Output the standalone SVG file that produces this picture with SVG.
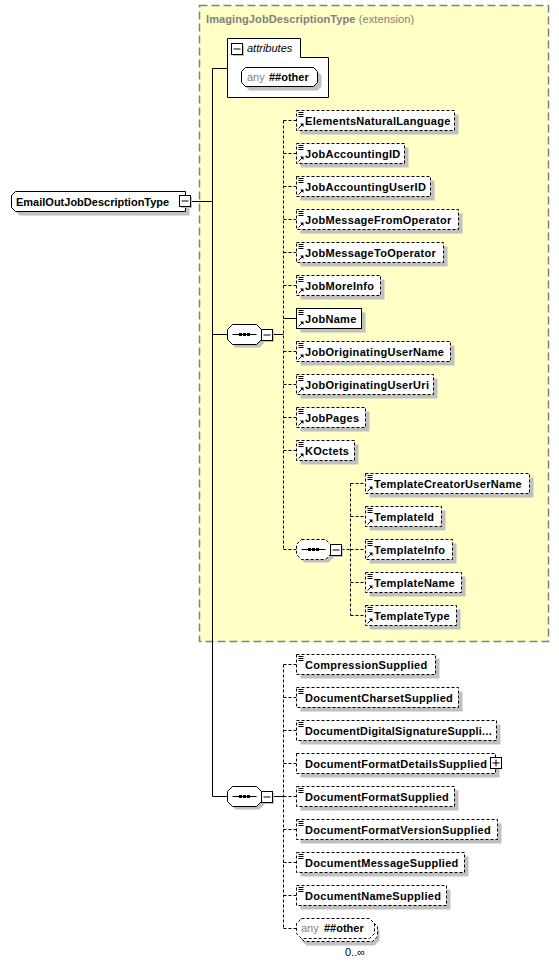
<svg xmlns="http://www.w3.org/2000/svg" xmlns:xlink="http://www.w3.org/1999/xlink" width="559" height="964" viewBox="0 0 559 964">
<style>
.t{font-family:"Liberation Sans",Arial,sans-serif;font-size:11px}
.b{font-weight:bold}
.el{font-family:"Liberation Sans",Arial,sans-serif;font-size:11px;font-weight:bold;letter-spacing:0.3px;fill:#000}
.gr{fill:#808080}
.box{fill:#fff;stroke:#000;stroke-width:1}
.opt{stroke-dasharray:3,2}
.sh{fill:#c0c0c0;stroke:none}
.ln{fill:none;stroke:#000;stroke-width:1}
.dl{stroke-dasharray:3,2}
</style>
<defs>
<path id="oct" d="M5,0H29L34,5V15L29,20H5L0,15V5Z"/>
<g id="ico"><path d="M2,2H7M2,4H7M2,6H7" class="ln"/></g>
<g id="ref"><path d="M2,-2L5.5,-5.5" class="ln"/><path d="M3.5,-7H7V-3.5Z" fill="#000"/></g>
<g id="minus"><rect class="sh" x="1.5" y="1.5" width="11" height="11"/><rect class="box" width="11" height="11"/><path d="M2,5.5H9" class="ln"/></g>
<g id="plus"><rect class="box" width="11" height="11"/><path d="M2,5.5H9M5.5,2V9" class="ln"/></g>
<g id="seqin"><path d="M5,10H29" class="ln"/><rect x="11.5" y="8.5" width="3" height="3" fill="#000"/><rect x="15.5" y="8.5" width="3" height="3" fill="#000"/><rect x="19.5" y="8.5" width="3" height="3" fill="#000"/></g>
</defs>

<g id="ImagingJobDescriptionType">
<rect x="199.5" y="5.5" width="349" height="636" fill="#ffffc6" stroke="#808080" stroke-width="1.5" stroke-dasharray="8,4"/>
<text class="t" x="206" y="22.5" style="letter-spacing:0.1px"><tspan class="b gr">ImagingJobDescriptionType</tspan><tspan class="gr"> (extension)</tspan></text>
</g>

<g id="connectors">
<path class="ln" d="M190.5,201.5H212.5M212.5,68.5V796.5M212.5,68.5H227.5M212.5,334.5H227.5M212.5,796.5H227.5"/>
<path class="ln" d="M272.5,334.5H283.5M283.5,318.5H296.5M272.5,796.5H283.5"/>
<path class="ln dl" d="M283.5,120.5V549.5M283.5,120.5H296.5M283.5,153.5H296.5M283.5,186.5H296.5M283.5,219.5H296.5M283.5,252.5H296.5M283.5,285.5H296.5M283.5,351.5H296.5M283.5,384.5H296.5M283.5,417.5H296.5M283.5,450.5H296.5M283.5,549.5H296.5"/>
<path class="ln dl" d="M341.5,549.5H350.5M350.5,483.5V615.5M350.5,483.5H365.5M350.5,516.5H365.5M350.5,549.5H365.5M350.5,582.5H365.5M350.5,615.5H365.5"/>
<path class="ln dl" d="M283.5,664.5V928.5M283.5,664.5H296.5M283.5,697.5H296.5M283.5,730.5H296.5M283.5,763.5H296.5M283.5,796.5H296.5M283.5,829.5H296.5M283.5,862.5H296.5M283.5,895.5H296.5M283.5,928.5H296.5"/>
</g>

<g id="EmailOutJobDescriptionType">
<path class="sh" d="M19.5,195.5H189.5V215.5H19.5L15.5,211.5V199.5Z"/>
<path class="box" d="M15.5,191.5H185.5V211.5H15.5L11.5,207.5V195.5Z"/>
<text class="t b" x="16" y="206">EmailOutJobDescriptionType</text>
<use href="#minus" x="179.5" y="195.5"/>
</g>

<g id="attributes">
<path class="box" d="M227.5,97.5V38.5H300.5V57.5H328.5V97.5Z"/>
<use href="#minus" x="231.5" y="43.5"/>
<text class="t" x="247" y="52" font-style="italic">attributes</text>
<path class="sh" d="M249.5,71.5H317.5L321.5,75.5V86.5L317.5,90.5H249.5L245.5,86.5V75.5Z"/>
<path class="box" d="M245.5,67.5H313.5L317.5,71.5V82.5L313.5,86.5H245.5L241.5,82.5V71.5Z"/>
<text class="t" x="247" y="81"><tspan class="gr">any</tspan><tspan class="b" x="269">##other</tspan></text>
</g>

<g id="sequence1" transform="translate(227.5,324.5)">
<use href="#oct" class="sh" x="3" y="3"/><use href="#oct" class="box"/><use href="#seqin"/>
<use href="#minus" x="34" y="5"/>
</g>

<g id="ElementsNaturalLanguage"><rect class="sh" x="300.5" y="114.5" width="158" height="20"/><rect class="box opt" x="296.5" y="110.5" width="158" height="20"/><use href="#ico" x="296.5" y="110.5"/><use href="#ref" x="296.5" y="130.5"/><text class="el" x="305" y="124.5">ElementsNaturalLanguage</text></g>
<g id="JobAccountingID"><rect class="sh" x="300.5" y="147.5" width="108" height="20"/><rect class="box opt" x="296.5" y="143.5" width="108" height="20"/><use href="#ico" x="296.5" y="143.5"/><use href="#ref" x="296.5" y="163.5"/><text class="el" x="305" y="157.5">JobAccountingID</text></g>
<g id="JobAccountingUserID"><rect class="sh" x="300.5" y="180.5" width="134" height="20"/><rect class="box opt" x="296.5" y="176.5" width="134" height="20"/><use href="#ico" x="296.5" y="176.5"/><use href="#ref" x="296.5" y="196.5"/><text class="el" x="305" y="190.5">JobAccountingUserID</text></g>
<g id="JobMessageFromOperator"><rect class="sh" x="300.5" y="213.5" width="162" height="20"/><rect class="box opt" x="296.5" y="209.5" width="162" height="20"/><use href="#ico" x="296.5" y="209.5"/><use href="#ref" x="296.5" y="229.5"/><text class="el" x="305" y="223.5">JobMessageFromOperator</text></g>
<g id="JobMessageToOperator"><rect class="sh" x="300.5" y="246.5" width="147" height="20"/><rect class="box opt" x="296.5" y="242.5" width="147" height="20"/><use href="#ico" x="296.5" y="242.5"/><use href="#ref" x="296.5" y="262.5"/><text class="el" x="305" y="256.5">JobMessageToOperator</text></g>
<g id="JobMoreInfo"><rect class="sh" x="300.5" y="279.5" width="84" height="20"/><rect class="box opt" x="296.5" y="275.5" width="84" height="20"/><use href="#ico" x="296.5" y="275.5"/><use href="#ref" x="296.5" y="295.5"/><text class="el" x="305" y="289.5">JobMoreInfo</text></g>
<g id="JobName"><rect class="sh" x="300.5" y="312.5" width="65" height="20"/><rect class="box" x="296.5" y="308.5" width="65" height="20"/><use href="#ico" x="296.5" y="308.5"/><use href="#ref" x="296.5" y="328.5"/><text class="el" x="305" y="322.5">JobName</text></g>
<g id="JobOriginatingUserName"><rect class="sh" x="300.5" y="345.5" width="154" height="20"/><rect class="box opt" x="296.5" y="341.5" width="154" height="20"/><use href="#ico" x="296.5" y="341.5"/><use href="#ref" x="296.5" y="361.5"/><text class="el" x="305" y="355.5">JobOriginatingUserName</text></g>
<g id="JobOriginatingUserUri"><rect class="sh" x="300.5" y="378.5" width="137" height="20"/><rect class="box opt" x="296.5" y="374.5" width="137" height="20"/><use href="#ico" x="296.5" y="374.5"/><use href="#ref" x="296.5" y="394.5"/><text class="el" x="305" y="388.5">JobOriginatingUserUri</text></g>
<g id="JobPages"><rect class="sh" x="300.5" y="411.5" width="69" height="20"/><rect class="box opt" x="296.5" y="407.5" width="69" height="20"/><use href="#ico" x="296.5" y="407.5"/><use href="#ref" x="296.5" y="427.5"/><text class="el" x="305" y="421.5">JobPages</text></g>
<g id="KOctets"><rect class="sh" x="300.5" y="444.5" width="58" height="20"/><rect class="box opt" x="296.5" y="440.5" width="58" height="20"/><use href="#ico" x="296.5" y="440.5"/><use href="#ref" x="296.5" y="460.5"/><text class="el" x="305" y="454.5">KOctets</text></g>

<g id="sequenceTemplate" transform="translate(296.5,539.5)">
<use href="#oct" class="sh" x="3" y="3"/><use href="#oct" class="box opt"/><use href="#seqin"/>
<use href="#minus" x="34" y="5"/>
</g>

<g id="TemplateCreatorUserName"><rect class="sh" x="369.5" y="477.5" width="164" height="20"/><rect class="box opt" x="365.5" y="473.5" width="164" height="20"/><use href="#ico" x="365.5" y="473.5"/><use href="#ref" x="365.5" y="493.5"/><text class="el" x="374" y="487.5">TemplateCreatorUserName</text></g>
<g id="TemplateId"><rect class="sh" x="369.5" y="510.5" width="76" height="20"/><rect class="box opt" x="365.5" y="506.5" width="76" height="20"/><use href="#ico" x="365.5" y="506.5"/><use href="#ref" x="365.5" y="526.5"/><text class="el" x="374" y="520.5">TemplateId</text></g>
<g id="TemplateInfo"><rect class="sh" x="369.5" y="543.5" width="87" height="20"/><rect class="box opt" x="365.5" y="539.5" width="87" height="20"/><use href="#ico" x="365.5" y="539.5"/><use href="#ref" x="365.5" y="559.5"/><text class="el" x="374" y="553.5">TemplateInfo</text></g>
<g id="TemplateName"><rect class="sh" x="369.5" y="576.5" width="96" height="20"/><rect class="box opt" x="365.5" y="572.5" width="96" height="20"/><use href="#ico" x="365.5" y="572.5"/><use href="#ref" x="365.5" y="592.5"/><text class="el" x="374" y="586.5">TemplateName</text></g>
<g id="TemplateType"><rect class="sh" x="369.5" y="609.5" width="91" height="20"/><rect class="box opt" x="365.5" y="605.5" width="91" height="20"/><use href="#ico" x="365.5" y="605.5"/><use href="#ref" x="365.5" y="625.5"/><text class="el" x="374" y="619.5">TemplateType</text></g>

<g id="sequence2" transform="translate(227.5,786.5)">
<use href="#oct" class="sh" x="3" y="3"/><use href="#oct" class="box"/><use href="#seqin"/>
<use href="#minus" x="34" y="5"/>
</g>

<g id="CompressionSupplied"><rect class="sh" x="300.5" y="658.5" width="139" height="20"/><rect class="box opt" x="296.5" y="654.5" width="139" height="20"/><use href="#ico" x="296.5" y="654.5"/><text class="el" x="305" y="668.5">CompressionSupplied</text></g>
<g id="DocumentCharsetSupplied"><rect class="sh" x="300.5" y="691.5" width="162" height="20"/><rect class="box opt" x="296.5" y="687.5" width="162" height="20"/><use href="#ico" x="296.5" y="687.5"/><text class="el" x="305" y="701.5">DocumentCharsetSupplied</text></g>
<g id="DocumentDigitalSignatureSupplied"><rect class="sh" x="300.5" y="724.5" width="200" height="20"/><rect class="box opt" x="296.5" y="720.5" width="200" height="20"/><use href="#ico" x="296.5" y="720.5"/><text class="el" x="305" y="734.5" textLength="187" lengthAdjust="spacingAndGlyphs">DocumentDigitalSignatureSuppli...</text></g>
<g id="DocumentFormatDetailsSupplied"><rect class="sh" x="300.5" y="757.5" width="199" height="20"/><rect class="box opt" x="296.5" y="753.5" width="199" height="20"/><text class="el" x="305" y="767.5">DocumentFormatDetailsSupplied</text><use href="#plus" x="490.5" y="757.5"/></g>
<g id="DocumentFormatSupplied"><rect class="sh" x="300.5" y="790.5" width="158" height="20"/><rect class="box opt" x="296.5" y="786.5" width="158" height="20"/><use href="#ico" x="296.5" y="786.5"/><text class="el" x="305" y="800.5">DocumentFormatSupplied</text></g>
<g id="DocumentFormatVersionSupplied"><rect class="sh" x="300.5" y="823.5" width="201" height="20"/><rect class="box opt" x="296.5" y="819.5" width="201" height="20"/><use href="#ico" x="296.5" y="819.5"/><text class="el" x="305" y="833.5">DocumentFormatVersionSupplied</text></g>
<g id="DocumentMessageSupplied"><rect class="sh" x="300.5" y="856.5" width="168" height="20"/><rect class="box opt" x="296.5" y="852.5" width="168" height="20"/><use href="#ico" x="296.5" y="852.5"/><text class="el" x="305" y="866.5">DocumentMessageSupplied</text></g>
<g id="DocumentNameSupplied"><rect class="sh" x="300.5" y="889.5" width="150" height="20"/><rect class="box opt" x="296.5" y="885.5" width="150" height="20"/><use href="#ico" x="296.5" y="885.5"/><text class="el" x="305" y="899.5">DocumentNameSupplied</text></g>

<g id="anyOther">
<path class="sh" d="M306.5,925.5H374.5L379.5,930.5V940.5L374.5,945.5H306.5L301.5,940.5V930.5Z"/>
<path class="box opt" d="M304.5,921.5H372.5L377.5,926.5V936.5L372.5,941.5H304.5L299.5,936.5V926.5Z"/>
<path class="box opt" d="M301.5,918.5H369.5L374.5,923.5V933.5L369.5,938.5H301.5L296.5,933.5V923.5Z"/>
<text class="t" x="301" y="932"><tspan class="gr">any</tspan><tspan class="b" x="324">##other</tspan></text>
<text class="t" x="345" y="956">0..∞</text>
</g>
</svg>
